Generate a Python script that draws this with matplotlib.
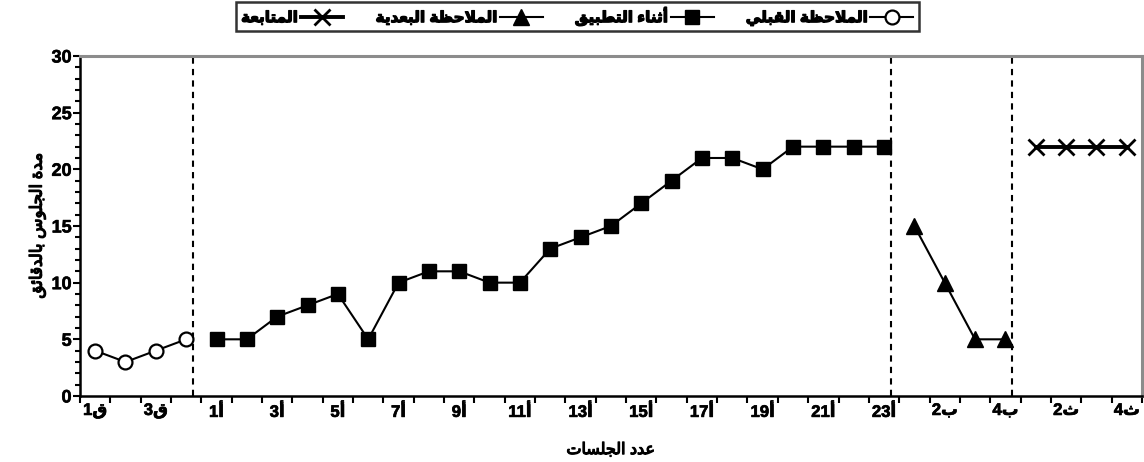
import matplotlib
matplotlib.use('Agg')
import matplotlib.pyplot as plt
import matplotlib.patheffects as pe
from matplotlib.ticker import MultipleLocator, FixedLocator

# Arabic presentation forms: (isolated, final, initial, medial); None = right-joining only
FORMS = {
    'ء': ('\uFE80', None, None, None),
    'أ': ('\uFE83', '\uFE84', None, None),
    'ئ': ('\uFE89', '\uFE8A', '\uFE8B', '\uFE8C'),
    'ا': ('\uFE8D', '\uFE8E', None, None),
    'ب': ('\uFE8F', '\uFE90', '\uFE91', '\uFE92'),
    'ة': ('\uFE93', '\uFE94', None, None),
    'ت': ('\uFE95', '\uFE96', '\uFE97', '\uFE98'),
    'ث': ('\uFE99', '\uFE9A', '\uFE9B', '\uFE9C'),
    'ج': ('\uFE9D', '\uFE9E', '\uFE9F', '\uFEA0'),
    'ح': ('\uFEA1', '\uFEA2', '\uFEA3', '\uFEA4'),
    'د': ('\uFEA9', '\uFEAA', None, None),
    'س': ('\uFEB1', '\uFEB2', '\uFEB3', '\uFEB4'),
    'ط': ('\uFEC1', '\uFEC2', '\uFEC3', '\uFEC4'),
    'ظ': ('\uFEC5', '\uFEC6', '\uFEC7', '\uFEC8'),
    'ع': ('\uFEC9', '\uFECA', '\uFECB', '\uFECC'),
    'ق': ('\uFED5', '\uFED6', '\uFED7', '\uFED8'),
    'ل': ('\uFEDD', '\uFEDE', '\uFEDF', '\uFEE0'),
    'م': ('\uFEE1', '\uFEE2', '\uFEE3', '\uFEE4'),
    'ن': ('\uFEE5', '\uFEE6', '\uFEE7', '\uFEE8'),
    'و': ('\uFEED', '\uFEEE', None, None),
    'ي': ('\uFEF1', '\uFEF2', '\uFEF3', '\uFEF4'),
}
LAM_ALEF = {'ا': ('\uFEFB', '\uFEFC'), 'أ': ('\uFEF7', '\uFEF8')}


def ar(text):
    # join letters, then reverse for left-to-right drawing
    chars = list(text)
    tokens = []
    i = 0
    while i < len(chars):
        c = chars[i]
        if c == 'ل' and i + 1 < len(chars) and chars[i + 1] in LAM_ALEF:
            tokens.append(('LA', chars[i + 1]))
            i += 2
        else:
            tokens.append((c, None))
            i += 1

    def dual(t):
        return t[0] in FORMS and FORMS[t[0]][2] is not None

    def joins(t):
        return t[0] == 'LA' or (t[0] in FORMS and FORMS[t[0]][1] is not None)

    out = []
    for k, t in enumerate(tokens):
        prev = tokens[k - 1] if k > 0 else None
        nxt = tokens[k + 1] if k + 1 < len(tokens) else None
        p = prev is not None and dual(prev) and joins(t)
        if t[0] == 'LA':
            out.append(LAM_ALEF[t[1]][1 if p else 0])
            continue
        if t[0] not in FORMS:
            out.append(t[0])
            continue
        n = nxt is not None and dual(t) and joins(nxt)
        iso, fin, ini, med = FORMS[t[0]]
        if p and n:
            out.append(med)
        elif p:
            out.append(fin)
        elif n:
            out.append(ini)
        else:
            out.append(iso)
    return ''.join(reversed(out))


plt.rcParams['font.family'] = ['Liberation Sans', 'DejaVu Sans']
plt.rcParams['font.weight'] = 'bold'
bold = [pe.withStroke(linewidth=0.9, foreground='black')]

# data
baseline = [4, 3, 4, 5]
intervention = [5, 5, 7, 8, 9, 5, 10, 11, 11, 10, 10, 13, 14, 15, 17, 19, 21, 21, 20, 22, 22, 22, 22]
post = [15, 10, 5, 5]
follow = [22, 22, 22, 22]
phase_letters = ['ق', 'أ', 'ب', 'ث']
phase_names = ['الملاحظة القبلي', 'أثناء التطبيق', 'الملاحظة البعدية', 'المتابعة']
y_label = 'مدة الجلوس بالدقائق'
x_label = 'عدد الجلسات'

series = [baseline, intervention, post, follow]
labels = []
xs = []
start = 0
for letter, vals in zip(phase_letters, series):
    xs.append(list(range(start, start + len(vals))))
    labels += [f'{j + 1}{FORMS[letter][0]}' for j in range(len(vals))]
    start += len(vals)
n = start

fig = plt.figure(figsize=(11.44, 4.62), dpi=100)
ax = fig.add_axes([0.0699, 0.1429, 0.9283, 0.7359])

styles = [
    dict(marker='o', mfc='white', mec='black', ms=10, mew=1.6, lw=1.5),
    dict(marker='s', mfc='black', mec='black', ms=10, lw=1.5),
    dict(marker='^', mfc='black', mec='black', ms=11, lw=1.5),
    dict(marker='x', mfc='black', mec='black', ms=11, mew=2, lw=2.8),
]
handles = []
for x, vals, st, name in zip(xs, series, styles, phase_names):
    h, = ax.plot(x, vals, color='black', label=ar(name), clip_on=False, zorder=3, **st)
    handles.append(h)

# phase change lines
for x in xs[:-1]:
    ax.axvline(x[-1] + 0.22, color='black', ls=(0, (3, 2.5)), lw=1.5, zorder=2)

ax.set_xlim(-0.5, n - 0.5)
ax.set_ylim(0, 30)
ax.yaxis.set_major_locator(MultipleLocator(5))
ax.yaxis.set_minor_locator(MultipleLocator(1))
ax.tick_params(axis='y', which='major', direction='out', length=5, width=1.5, labelsize=13, pad=1)
ax.tick_params(axis='y', which='minor', direction='out', length=3.5, width=1.5)
for t in ax.get_yticklabels():
    t.set_path_effects([pe.withStroke(linewidth=0.4, foreground='black')])

ax.xaxis.set_major_locator(FixedLocator([i - 0.5 for i in range(n + 1)]))
ax.xaxis.set_minor_locator(FixedLocator(list(range(0, n, 2))))
ax.set_xticklabels([])
ax.set_xticklabels([labels[i] for i in range(0, n, 2)], minor=True)
ax.tick_params(axis='x', which='major', direction='out', length=5, width=1.5)
ax.tick_params(axis='x', which='minor', length=0, labelsize=12, pad=5)
for t in ax.get_xticklabels(minor=True):
    t.set_path_effects([pe.withStroke(linewidth=0.5, foreground='black')])

for side in ['left', 'bottom']:
    ax.spines[side].set_linewidth(1.8)
    ax.spines[side].set_color('black')
for side in ['top', 'right']:
    ax.spines[side].set_linewidth(2.2)
    ax.spines[side].set_color('#8c8c8c')

ax.set_ylabel(ar(y_label), fontsize=12, labelpad=4, path_effects=bold)
ax.set_xlabel(ar(x_label), fontsize=11.5, labelpad=16, path_effects=bold)

leg = fig.legend(handles[::-1], [h.get_label() for h in handles[::-1]], loc='center',
                 bbox_to_anchor=(0.5045, 0.964), ncol=4, markerfirst=False, frameon=True,
                 fancybox=False, edgecolor='black', fontsize=11, handlelength=2.8,
                 columnspacing=2.1, handletextpad=0.2, borderpad=0.35)
leg.get_frame().set_linewidth(1.8)
for t in leg.get_texts():
    t.set_path_effects(bold)

fig.savefig('out.png', dpi=100)
